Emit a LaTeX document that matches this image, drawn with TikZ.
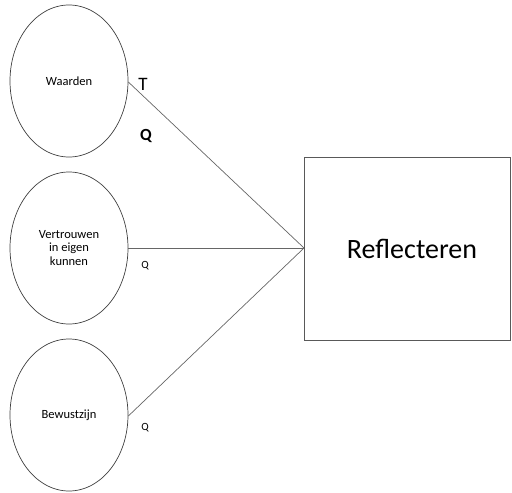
\documentclass[tikz,border=0pt]{standalone}
\usepackage{fontspec}
\setmainfont{Carlito}
\usetikzlibrary{shapes.geometric}
\begin{document}
\begin{tikzpicture}[x=1pt,y=-1pt,
  factor/.style={draw=black!75,line width=0.7pt,ellipse,minimum width=118pt,minimum height=152pt,inner sep=0pt,font=\fontsize{12.5}{13.5}\selectfont,align=center},
  target/.style={draw=black!65,line width=0.8pt,rectangle,minimum width=206pt,minimum height=183pt,inner sep=0pt,font=\fontsize{28}{32}\selectfont},
  link/.style={draw=black!60,line width=0.7pt},
  tag/.style={inner sep=0pt}]
\useasboundingbox (0,0) rectangle (512,493);
\node[factor] (w) at (69,81) {Waarden};
\node[factor] (v) at (69,248) {Vertrouwen\\in eigen\\kunnen};
\node[factor] (b) at (69,415) {Bewustzijn};
\node[target,anchor=north west] (r) at (304,157) {};
\node[font=\fontsize{28}{32}\selectfont] (rt) at (412,249) {Reflecteren};
\coordinate (hub) at (304,248);
\draw[link] (w.east) ++(0,1) -- (hub);
\draw[link] (v.east) -- (hub);
\draw[link] (b.east) ++(0,1) -- (hub);
\node[tag,font=\fontsize{19}{20}\selectfont] (t1) at (143,84) {T};
\node[tag,font=\fontsize{17}{18}\selectfont\bfseries] (q1) at (146,136) {Q};
\node[tag,font=\fontsize{11}{12}\selectfont] (q2) at (145,266) {Q};
\node[tag,font=\fontsize{11}{12}\selectfont] (q3) at (145,428) {Q};
\end{tikzpicture}
\end{document}
